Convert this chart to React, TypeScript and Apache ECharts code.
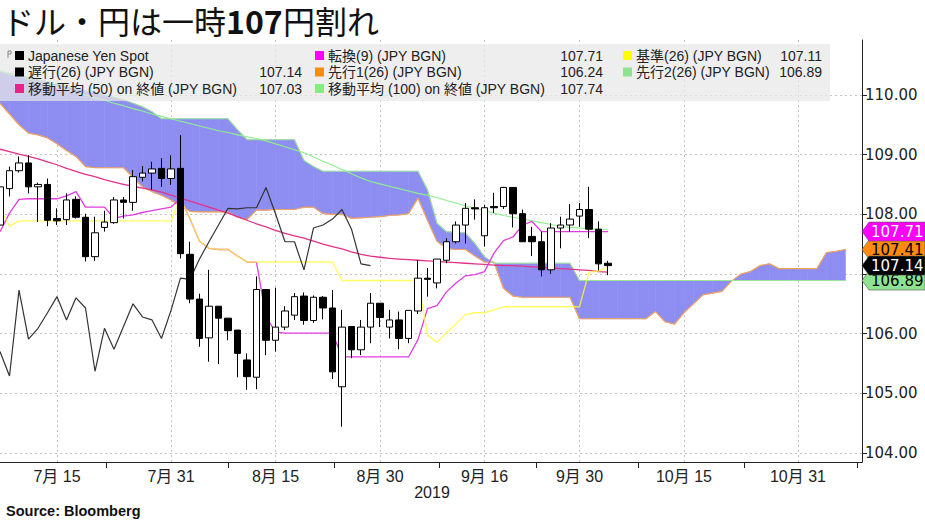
import React, { useEffect, useRef } from 'react';
import * as echarts from 'echarts';

// ---------- Data ----------
const titleParts = ['ドル・円は一時', '107', '円割れ'];
const xLabelIndex = [6, 18, 29, 40, 51, 61, 72, 84];
const xLabelText = ['7月 15', '7月 31', '8月 15', '8月 30', '9月 16', '9月 30', '10月 15', '10月 31'];
const xTickIndex = [11.2, 24, 35.2, 46.2, 56.5, 67.2, 78.3, 90.2];
const yTickValues = [104, 105, 106, 107, 108, 109, 110];

const openPx = [107.82,108.43,108.73,108.86,108.46,108.50,107.93,107.91,108.25,107.95,
 107.29,107.78,107.86,108.24,108.20,108.62,108.69,108.77,108.60,108.77,
 107.33,106.58,105.93,106.46,106.26,106.06,105.56,105.27,106.74,105.89,
 106.11,106.31,106.63,106.22,106.61,106.43,105.11,106.12,105.73,106.11,
 106.51,106.11,106.23,105.92,106.38,106.93,106.85,107.23,107.54,107.82,
 108.11,107.64,108.13,108.13,108.45,108.01,107.63,107.54,107.07,107.77,
 107.82,107.97,108.08,107.75,107.18];
const closePx = [108.46,108.73,108.86,108.46,108.50,107.90,107.89,108.24,107.95,107.29,
 107.69,107.87,108.24,108.20,108.63,108.69,108.76,108.60,108.76,107.34,
 106.58,105.92,106.46,106.26,106.05,105.67,105.28,106.74,105.89,106.11,
 106.38,106.62,106.22,106.61,106.43,105.36,106.11,105.73,106.11,106.51,
 106.27,106.23,105.92,106.39,106.93,106.91,107.25,107.54,107.82,108.10,
 108.09,108.11,108.11,108.45,108.01,107.54,107.54,107.07,107.77,107.82,
 107.92,108.08,107.75,107.17,107.14];
const lowPx = [107.78,108.30,108.70,108.35,107.87,107.80,107.82,107.82,107.93,107.21,
 107.22,107.71,107.84,107.93,108.06,108.55,108.41,108.46,108.49,107.26,
 106.51,105.78,105.53,105.49,105.89,105.27,105.06,105.07,105.64,105.70,
 106.06,106.23,106.15,106.18,106.24,105.24,104.44,105.59,105.64,105.84,
 106.11,105.92,105.74,105.84,106.33,106.62,106.76,107.18,107.51,107.51,
 107.91,107.46,108.02,108.09,107.78,107.54,107.30,106.96,107.00,107.43,
 107.71,107.79,107.60,107.06,106.98];
const highPx = [108.52,108.80,108.97,108.99,108.53,108.60,108.10,108.35,108.30,108.01,
 107.96,108.06,108.29,108.29,108.74,108.81,108.88,108.94,108.99,109.33,
 107.54,106.67,107.07,106.46,106.26,106.06,105.67,106.96,106.74,106.77,
 106.46,106.68,106.69,106.64,106.63,106.73,106.40,106.12,106.23,106.68,
 106.51,106.40,106.37,106.39,107.23,107.10,107.25,107.60,107.88,108.19,
 108.25,108.16,108.36,108.46,108.45,108.08,107.79,107.71,107.85,107.96,
 108.17,108.19,108.46,107.88,107.22];

const tenkan = [107.71,108.02,108.25,108.26,108.26,108.26,108.26,108.31,108.38,108.12,
 108.12,108.12,107.93,107.97,107.99,108.03,108.06,108.09,108.12,108.27,
 107.92,107.55,107.43,107.41,107.41,107.30,107.20,107.20,106.28,106.03,
 106.01,106.01,106.01,106.01,106.01,106.01,105.61,105.61,105.61,105.61,
 105.61,105.61,105.61,105.61,105.90,106.42,106.47,106.70,106.85,106.97,
 106.99,107.04,107.35,107.56,107.62,107.82,107.88,107.71,107.71,107.71,
 107.71,107.71,107.71,107.71,107.71];
const kijun = [108.10,107.80,107.89,107.89,107.89,107.89,107.89,107.89,107.89,107.89,
 107.89,107.89,107.89,107.89,107.89,107.89,107.89,107.89,107.89,108.27,
 107.92,107.55,107.43,107.41,107.41,107.30,107.20,107.20,107.20,107.20,
 107.20,107.20,107.20,107.20,107.20,107.20,106.89,106.89,106.89,106.89,
 106.89,106.89,106.89,106.89,106.89,105.98,105.85,106.02,106.16,106.32,
 106.35,106.35,106.40,106.45,106.45,106.45,106.45,106.45,106.45,106.45,
 106.45,106.45,107.03,107.05,107.11];
const spanA = [109.86,109.68,109.50,109.36,109.33,109.28,109.18,109.07,108.97,108.80,
 108.78,108.78,108.78,108.78,108.62,108.46,108.38,108.32,108.24,108.14,
 108.05,108.04,108.04,108.04,108.04,107.95,107.91,108.07,108.07,108.08,
 108.08,108.08,108.12,108.12,108.01,108.00,108.00,107.93,107.94,107.95,
 107.96,107.98,107.99,108.01,108.27,107.90,107.55,107.43,107.41,107.41,
 107.30,107.20,107.20,106.76,106.63,106.61,106.61,106.61,106.61,106.61,
 106.61,106.25,106.25,106.25,106.25,106.25,106.25,106.25,106.25,106.37,
 106.20,106.16,106.35,106.50,106.65,106.68,106.71,106.88,107.00,107.04,
 107.14,107.17,107.09,107.09,107.09,107.09,107.09,107.36,107.38,107.41];
const spanB = [110.40,110.36,110.33,110.30,110.26,110.22,110.18,110.15,110.11,110.07,
 110.04,110.00,109.96,109.92,109.86,109.80,109.72,109.60,109.60,109.60,
 109.60,109.60,109.60,109.60,109.60,109.42,109.25,109.25,109.25,109.25,
 109.25,109.25,108.90,108.80,108.72,108.72,108.72,108.72,108.72,108.72,
 108.72,108.72,108.72,108.72,108.72,108.41,107.85,107.71,107.70,107.69,
 107.51,107.29,107.18,107.18,107.18,107.18,107.18,107.18,107.18,107.18,
 107.18,106.89,106.89,106.89,106.89,106.89,106.89,106.89,106.89,106.89,
 106.89,106.89,106.89,106.89,106.89,106.89,106.89,106.89,106.89,106.89,
 106.89,106.89,106.89,106.89,106.89,106.89,106.89,106.89,106.89,106.89];
const lagging = [105.70,105.29,106.73,105.91,106.09,106.35,106.62,106.23,106.60,106.43,
 105.37,106.09,105.74,106.12,106.50,106.28,106.23,105.92,106.39,106.93,
 106.91,107.25,107.54,107.82,108.10,108.09,108.11,108.11,108.45,108.01,
 107.54,107.54,107.07,107.77,107.82,107.92,108.08,107.75,107.17,107.14];
const ma50 = [109.09,109.05,109.01,108.97,108.93,108.88,108.83,108.77,108.72,108.67,
 108.63,108.58,108.54,108.50,108.47,108.44,108.41,108.37,108.32,108.27,
 108.22,108.17,108.12,108.07,108.02,107.96,107.90,107.84,107.79,107.73,
 107.68,107.64,107.60,107.55,107.50,107.46,107.42,107.37,107.33,107.30,
 107.28,107.26,107.25,107.24,107.23,107.22,107.21,107.20,107.19,107.18,
 107.17,107.16,107.15,107.14,107.14,107.13,107.12,107.11,107.10,107.09,
 107.08,107.07,107.06,107.04,107.03];
const ma100 = [110.40,110.35,110.31,110.27,110.22,110.18,110.13,110.09,110.04,110.00,
 109.95,109.91,109.86,109.82,109.77,109.73,109.68,109.64,109.60,109.56,
 109.52,109.48,109.44,109.40,109.37,109.33,109.30,109.27,109.23,109.18,
 109.13,109.08,109.03,108.96,108.89,108.82,108.75,108.68,108.61,108.55,
 108.51,108.47,108.43,108.39,108.35,108.32,108.28,108.23,108.19,108.14,
 108.10,108.06,108.02,107.98,107.95,107.92,107.89,107.86,107.83,107.80,
 107.78,107.77,107.76,107.75,107.74];

const legendNames = ['Japanese Yen Spot', '遅行(26) (JPY BGN)', '移動平均 (50) on 終値 (JPY BGN)',
  '転換(9) (JPY BGN)', '先行1(26) (JPY BGN)', '移動平均 (100) on 終値 (JPY BGN)',
  '基準(26) (JPY BGN)', '先行2(26) (JPY BGN)'];
const legendValues = ['', '107.14', '107.03', '107.71', '106.24', '107.74', '107.11', '106.89'];
const legendColors = ['#000000', '#000000', '#e8268a', '#ff00ff', '#ff8a10', '#80ee80', '#ffff00', '#8fe28f'];

const tagValues = [106.89, 107.41, 107.14, 107.71];
const tagColors = ['#8fe28f', '#ff8a10', '#000000', '#ff00ff'];
const tagTextColors = ['#000000', '#000000', '#ffffff', '#ffffff'];

// ---------- Layout constants ----------
const X_MAX = 90.74;
const Y_MIN = 103.85;
const Y_MAX = 110.92;
const GRID = { left: 0, right: 63, top: 40, bottom: 58 };
const FONT = '"Liberation Sans", "Noto Sans CJK JP", sans-serif';
const AXFONT = '"DejaVu Sans", "Noto Sans CJK JP", sans-serif';
const CJK = '"Noto Sans CJK JP", sans-serif';
const CLOUD = '#8e8ef2';

const pairs = (arr: number[]) => arr.map((v, i) => [i, v]);

function line(arr: number[], color: string, width: number, z: number, opacity = 1) {
  return {
    type: 'line', data: pairs(arr), symbol: 'none', silent: true, z,
    lineStyle: { color, width, opacity }, emphasis: { disabled: true },
  };
}

export default function App() {
  const ref = useRef<HTMLDivElement>(null);
  useEffect(() => {
    if (!ref.current) return;
    const chart = echarts.init(ref.current, undefined, { renderer: 'svg' });
    const cloudSegments = spanA.slice(0, -1).map((a, i) => [i, a, spanB[i], i + 1, spanA[i + 1], spanB[i + 1]]);
    chart.setOption({
      animation: false,
      backgroundColor: '#ffffff',
      grid: GRID,
      xAxis: [
        {
          type: 'value', min: 0, max: X_MAX,
          axisLine: { show: true, onZero: false, lineStyle: { color: '#222', width: 1 } },
          axisTick: { show: false, customValues: xLabelIndex },
          axisLabel: {
            customValues: xLabelIndex, fontSize: 16, color: '#222', fontFamily: FONT, margin: 6,
            formatter: (v: number) => { const k = xLabelIndex.indexOf(v); return k >= 0 ? xLabelText[k] : ''; },
          },
          splitLine: { show: true, lineStyle: { color: '#c4c4c4', type: [2, 3], width: 1 } },
        },
        {
          type: 'value', min: 0, max: X_MAX, position: 'bottom',
          axisLine: { show: false, onZero: false },
          axisTick: { show: true, customValues: xTickIndex, length: 6, lineStyle: { color: '#222' } },
          axisLabel: { show: false },
          splitLine: { show: false },
        },
      ],
      yAxis: {
        type: 'value', position: 'right', min: Y_MIN, max: Y_MAX,
        axisLine: { show: true, onZero: false, lineStyle: { color: '#222', width: 1 } },
        axisTick: { show: true, customValues: yTickValues, length: 5, lineStyle: { color: '#222' } },
        axisLabel: {
          customValues: yTickValues, fontSize: 15, color: '#222', fontFamily: AXFONT, margin: 3,
          formatter: (v: number) => v.toFixed(2),
        },
        splitLine: { show: true, lineStyle: { color: '#c4c4c4', type: [2, 3], width: 1 } },
      },
      series: [
        {
          type: 'custom', z: 1, silent: true, clip: true,
          data: cloudSegments,
          encode: { x: [0, 3], y: [1, 2, 4, 5] },
          renderItem: (params: any, api: any) => {
            const p1 = api.coord([api.value(0), api.value(1)]);
            const p2 = api.coord([api.value(3), api.value(4)]);
            const p3 = api.coord([api.value(3), api.value(5)]);
            const p4 = api.coord([api.value(0), api.value(2)]);
            return {
              type: 'polygon',
              shape: { points: [p1, p2, p3, p4] },
              style: { fill: CLOUD, stroke: CLOUD, lineWidth: 0.6 },
            };
          },
        },
        line(spanA, '#f4a25a', 1.2, 2),
        line(spanB, '#9be39b', 1.1, 2),
        line(ma100, '#8ff08f', 1.1, 3),
        line(ma50, '#e2318a', 1.3, 3),
        line(tenkan, '#e23be2', 1.3, 3),
        line(kijun, '#ffff30', 1.4, 4, 0.75),
        line(lagging, '#333333', 1.2, 4),
        {
          type: 'candlestick', z: 10, silent: true,
          data: openPx.map((o, i) => [i, o, closePx[i], lowPx[i], highPx[i]]),
          encode: { x: 0, y: [1, 2, 3, 4] },
          barWidth: 7,
          itemStyle: { color: '#ffffff', color0: '#000000', borderColor: '#000000', borderColor0: '#000000', borderWidth: 1 },
        },
      ],
    });

    const graphics: any[] = [];
    // title
    const titleX = [2, 226, 283];
    titleParts.forEach((t, k) => {
      graphics.push({ type: 'text', z: 50, x: titleX[k], y: 20,
        style: { text: t, fill: '#111', fontSize: 32, fontWeight: k === 1 ? 'bold' : 'normal', fontFamily: CJK, verticalAlign: 'middle' } });
    });
    // legend panel
    graphics.push({ type: 'rect', z: 50, shape: { x: 0, y: 44, width: 830, height: 57 },
      style: { fill: 'rgba(232,232,232,0.72)' } });
    graphics.push({ type: 'polyline', z: 51, shape: { points: [[8, 58], [8, 51], [11, 51], [11, 54], [8, 54]] },
      style: { stroke: '#888', lineWidth: 1, fill: 'none' } });
    const colSq = [15, 315, 623];
    const colVal = [302, 603, 822];
    const rowY = [55.5, 72, 88.5];
    legendNames.forEach((name, k) => {
      const col = Math.floor(k / 3);
      const row = k % 3;
      const y = rowY[row];
      graphics.push({ type: 'rect', z: 51, shape: { x: colSq[col], y: y - 4.5, width: 9, height: 9 },
        style: { fill: legendColors[k] } });
      graphics.push({ type: 'text', z: 51, x: colSq[col] + 13, y,
        style: { text: name, fill: '#222', fontSize: 14, fontFamily: FONT, verticalAlign: 'middle' } });
      if (legendValues[k]) {
        graphics.push({ type: 'text', z: 51, x: colVal[col], y,
          style: { text: legendValues[k], fill: '#222', fontSize: 14, fontFamily: FONT, verticalAlign: 'middle', align: 'right' } });
      }
    });
    // value tags on the right axis
    tagValues.forEach((v, k) => {
      const y = chart.convertToPixel({ yAxisIndex: 0 }, v) as number;
      graphics.push({ type: 'polygon', z: 60 + k,
        shape: { points: [[862, y], [869, y - 9.5], [925, y - 9.5], [925, y + 9.5], [869, y + 9.5]] },
        style: { fill: tagColors[k], stroke: '#555', lineWidth: 0.6 } });
      graphics.push({ type: 'text', z: 60 + k, x: 871, y,
        style: { text: v.toFixed(2), fill: tagTextColors[k], fontSize: 15, fontFamily: AXFONT, verticalAlign: 'middle' } });
    });
    graphics.push({ type: 'text', z: 50, x: 432, y: 492,
      style: { text: '2019', fill: '#222', fontSize: 16, fontFamily: FONT, align: 'center', verticalAlign: 'middle' } });
    graphics.push({ type: 'text', z: 50, x: 6, y: 511,
      style: { text: 'Source: Bloomberg', fill: '#111', fontSize: 14.5, fontWeight: 'bold', fontFamily: FONT, verticalAlign: 'middle' } });
    chart.setOption({ graphic: graphics });

    return () => chart.dispose();
  }, []);
  return <div ref={ref} style={{ position: 'fixed', left: 0, top: 0, width: 925, height: 520 }} />;
}
